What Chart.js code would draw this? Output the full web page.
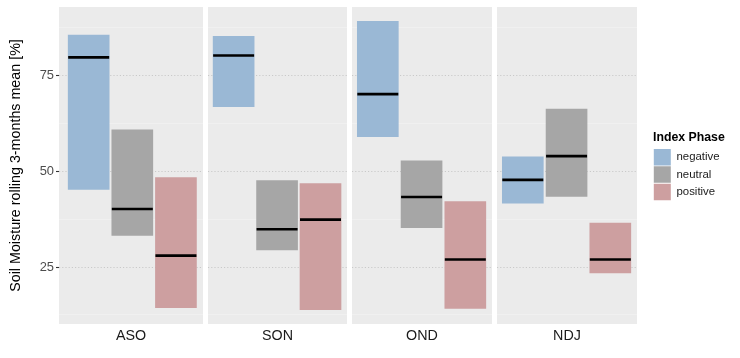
<!DOCTYPE html>
<html><head><meta charset="utf-8">
<script src="https://cdn.jsdelivr.net/npm/chart.js@4/dist/chart.umd.min.js"></script>
<style>
html,body{margin:0;padding:0;background:#fff;}
#wrap{position:relative;width:740px;height:358px;overflow:hidden;background:#fff;}
canvas{position:absolute;top:0;}
</style></head><body>
<div id="wrap">
<canvas id="p0" width="203" height="358" style="left:0px"></canvas>
<canvas id="p1" width="139" height="358" style="left:208px"></canvas>
<canvas id="p2" width="140" height="358" style="left:352px"></canvas>
<canvas id="p3" width="140" height="358" style="left:497px"></canvas>
<canvas id="lg" width="87" height="160" style="left:653px;top:131px"></canvas>
</div>
<script>
// ---- data ----
const periods = ['ASO', 'SON', 'OND', 'NDJ'];
const phases = ['negative', 'neutral', 'positive'];

const negativeLow    = [45.3, 66.9, 59.1, 41.7];
const negativeHigh   = [85.6, 85.3, 89.2, 53.8];
const negativeMedian = [79.8, 80.3, 70.2, 47.8];

const neutralLow     = [33.3, 29.5, 35.3, 43.5];
const neutralHigh    = [60.9, 47.6, 52.8, 66.3];
const neutralMedian  = [40.2, 34.9, 43.3, 54.0];

const positiveLow    = [14.4, 13.9, 14.2, 23.5];
const positiveHigh   = [48.4, 46.8, 42.1, 36.5];
const positiveMedian = [28.0, 37.4, 27.0, 27.0];

const yMajorTicks = [25, 50, 75];
const yMinorTicks = [12.5, 37.5, 62.5, 87.5];
const yTitle = 'Soil Moisture rolling 3-months mean [%]';
const legendTitle = 'Index Phase';

// ---- styling ----
const phaseColors = ['#9AB8D5', '#A6A6A6', '#CD9FA0'];
const FONT = "'Liberation Sans', Arial, Helvetica, sans-serif";
Chart.defaults.font.family = FONT;
Chart.defaults.color = '#4D4D4D';

const lowSeries = [negativeLow, neutralLow, positiveLow];
const highSeries = [negativeHigh, neutralHigh, positiveHigh];
const medianSeries = [negativeMedian, neutralMedian, positiveMedian];
const yGridValues = [...yMajorTicks, ...yMinorTicks].sort((a, b) => a - b);
const isMajor = c => !!(c && c.tick && yMajorTicks.includes(c.tick.value));

const panelBg = {
  id: 'panelBg',
  beforeDraw(chart, args, opts) {
    const a = chart.chartArea;
    const ctx = chart.ctx;
    ctx.save();
    ctx.fillStyle = opts.color || '#EBEBEB';
    ctx.fillRect(a.left, a.top, a.right - a.left, a.bottom - a.top);
    ctx.restore();
  }
};

function panelChart(id, p, first) {
  const xRange = first ? [0.32, 3.62] : [0.41, 3.61];
  return new Chart(document.getElementById(id), {
    type: 'bar',
    data: {
      datasets: [
        {
          type: 'line',
          data: phases.map((ph, i) => ({ x: i + 1, y: medianSeries[i][p] })),
          showLine: false,
          pointStyle: 'line',
          pointRadius: 20.5,
          pointHoverRadius: 20.5,
          pointBorderWidth: 2.6,
          pointHoverBorderWidth: 2.6,
          pointBorderColor: '#000000',
          pointBackgroundColor: '#000000',
          clip: false,
          order: 0
        },
        {
          type: 'bar',
          data: phases.map((ph, i) => ({ x: i + 1, y: [lowSeries[i][p], highSeries[i][p]] })),
          backgroundColor: phaseColors,
          borderWidth: 0,
          barThickness: 41,
          order: 1
        }
      ]
    },
    options: {
      responsive: false,
      animation: false,
      devicePixelRatio: 1,
      events: [],
      layout: { autoPadding: false, padding: { top: 7, left: 0, right: 0, bottom: 0 } },
      plugins: {
        legend: { display: false },
        tooltip: { enabled: false },
        panelBg: { color: '#EBEBEB' }
      },
      scales: {
        x: {
          type: 'linear',
          min: xRange[0],
          max: xRange[1],
          offset: false,
          grid: { display: false },
          border: { display: false },
          ticks: { display: false },
          title: {
            display: true,
            text: periods[p],
            color: '#1A1A1A',
            font: { size: 14.3 },
            padding: { top: 0, bottom: 13.6 }
          },
          afterFit: s => { s.height = 34; s.paddingLeft = 0; s.paddingRight = 0; }
        },
        y: {
          type: 'linear',
          min: 10.13,
          max: 92.97,
          afterBuildTicks: s => { s.ticks = yGridValues.map(v => ({ value: v })); },
          afterFit: s => { s.width = first ? 59 : 0; s.paddingTop = 0; s.paddingBottom = 0; },
          grid: {
            drawTicks: first,
            tickLength: 3,
            tickWidth: 1.1,
            color: c => isMajor(c) ? 'rgba(0,0,0,0.14)' : 'rgba(255,255,255,0.45)',
            lineWidth: c => isMajor(c) ? 1 : 0.6,
            tickColor: c => isMajor(c) ? '#333333' : 'rgba(0,0,0,0)',
            tickBorderDash: []
          },
          border: { display: false, dash: c => isMajor(c) ? [1.2, 2] : [] },
          ticks: {
            display: first,
            padding: 2,
            color: '#4D4D4D',
            font: { size: 12.9 },
            autoSkip: false,
            callback: v => yMajorTicks.includes(v) ? String(v) : ''
          },
          title: {
            display: first,
            text: yTitle,
            color: '#000000',
            font: { size: 14.3 },
            padding: { top: 7.4, bottom: 0 }
          }
        }
      }
    },
    plugins: [panelBg]
  });
}

periods.forEach((per, p) => panelChart('p' + p, p, p === 0));

// legend
new Chart(document.getElementById('lg'), {
  type: 'bar',
  data: {
    labels: [],
    datasets: phases.map((ph, i) => ({ label: ph, data: [], backgroundColor: phaseColors[i], borderWidth: 0 }))
  },
  options: {
    responsive: false,
    animation: false,
    devicePixelRatio: 1,
    events: [],
    layout: { autoPadding: false, padding: 0 },
    scales: { x: { display: false }, y: { display: false } },
    plugins: {
      tooltip: { enabled: false },
      legend: {
        display: true,
        position: 'top',
        align: 'start',
        title: {
          display: true,
          text: legendTitle,
          color: '#000000',
          position: 'start',
          font: { size: 12.3, weight: 'bold' },
          padding: { top: 0.5, bottom: 2 }
        },
        labels: {
          boxWidth: 17,
          boxHeight: 16.5,
          padding: 0.8,
          color: '#1A1A1A',
          font: { size: 11.4 }
        }
      }
    }
  }
});
</script>
</body></html>
